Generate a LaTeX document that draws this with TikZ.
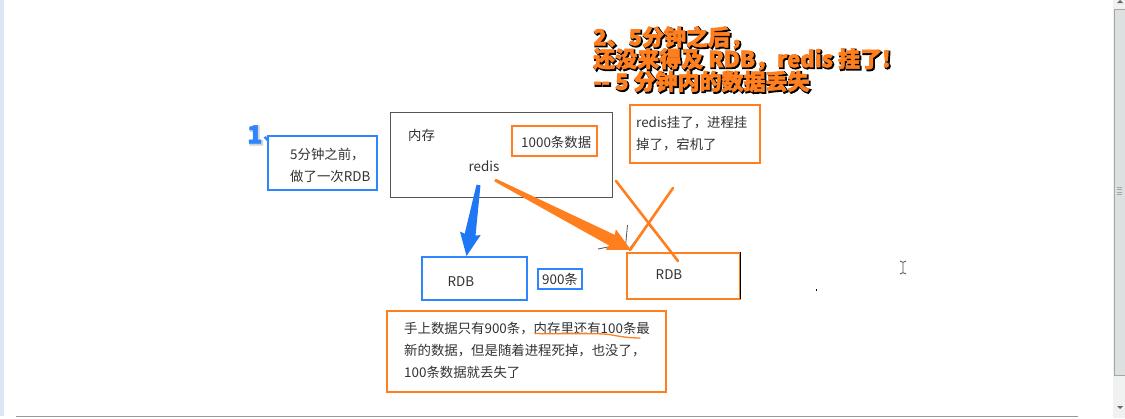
\documentclass[tikz,border=0pt]{standalone}
\usepackage{fontspec}
\setmainfont{Noto Sans CJK SC}
\usetikzlibrary{calc}
\definecolor{ob}{HTML}{FF7F1E}
\definecolor{bb}{HTML}{2E86FF}
\definecolor{barrow}{HTML}{1E78F5}
\definecolor{ink}{HTML}{333333}
\definecolor{frame}{HTML}{555555}
\definecolor{stripc}{HTML}{DCE6F4}
\definecolor{trackc}{HTML}{F0F1F1}
\definecolor{thumbc}{HTML}{DDE0E0}
\newcommand{\sha}[3]{\leavevmode\rlap{\special{pdf:code 2 Tr #3 w}\raisebox{-1.2pt}{\hspace*{1.2pt}\color{#1}#2}\special{pdf:code 0 Tr 1 w}}\special{pdf:code 2 Tr 0.5 w}#2\special{pdf:code 0 Tr 1 w}}
\tikzset{
  obox/.style={draw=ob,line width=2pt,fill=white,inner sep=0pt,rectangle},
  bbox/.style={draw=bb,line width=2pt,fill=white,inner sep=0pt,rectangle},
  txt/.style={font=\fontsize{13.4}{22}\selectfont,text=ink,inner sep=0pt,anchor=west,align=left},
  ctxt/.style={font=\fontsize{13.4}{22}\selectfont,text=ink,inner sep=0pt,anchor=center},
  title/.style={font=\bfseries\fontsize{22}{22}\selectfont,text=ob,inner sep=0pt,anchor=west},
  stroke/.style={draw=ob,line width=2.6pt,line cap=round},
  thinmark/.style={draw=frame,line width=0.8pt},
}
\begin{document}
\begin{tikzpicture}[x=1pt,y=-1pt]
\useasboundingbox (0,0) rectangle (1125,418);
\fill[white] (0,0) rectangle (1125,418);
% window chrome
\fill[stripc] (0,0) rectangle (4,416);
\fill[trackc] (1113,0) rectangle (1125,418);
\fill[thumbc,draw=gray!70,line width=0.5pt] (1114,9) rectangle (1125,375);
\draw[gray!70,line width=0.6pt] (1117,187)--(1122,187) (1117,189.5)--(1122,189.5) (1117,192)--(1122,192) (1117,194)--(1122,194);
\fill[gray!80!black] (1117,3)--(1120,0)--(1123,3)--cycle (1117,406)--(1123,406)--(1120,409)--cycle;
\draw[gray!80,line width=1pt] (16,416.5)--(1078,416.5);
% memory box
\node[draw=frame,line width=1pt,fill=white,minimum width=222pt,minimum height=85pt,inner sep=0pt] (mem) at (501,154.5) {};
\node[obox,minimum width=85pt,minimum height=30pt] (k1000) at (554,141) {};
\node[bbox,minimum width=109pt,minimum height=54pt] (before) at (322,162.5) {};
\node[obox,minimum width=130pt,minimum height=58pt] (crash) at (694.5,133.5) {};
\node[bbox,minimum width=105pt,minimum height=43pt] (rdba) at (474,278) {};
\node[bbox,minimum width=44pt,minimum height=20pt] (n900) at (559.5,278.5) {};
\node[obox,minimum width=113pt,minimum height=46pt] (rdbb) at (683.5,275.5) {};
\node[obox,minimum width=279pt,minimum height=81pt] (note) at (526,351) {};
\draw[black,line width=1pt] (740.5,252)--(740.5,299);
% texts
\node[txt] (tmem) at (408,135) {内存};
\node[txt] (t1000) at (521,142) {1000条数据};
\node[ctxt] (redis) at (484,166) {redis};
\node[txt] (tbefore) at (290,165.5) {5分钟之前，\\做了一次RDB};
\node[txt] (tcrash) at (636,134) {redis挂了，进程挂\\掉了，宕机了};
\node[ctxt] (trdba) at (461,282) {RDB};
\node[ctxt] (t900) at (560,279) {900条};
\node[ctxt] (trdbb) at (669,275) {RDB};
\node[txt] (tnote) at (404,350) {手上数据只有900条，内存里还有100条最\\新的数据，但是随着进程死掉，也没了，\\100条数据就丢失了};
% title
\node[title] (l1) at (593,38) {\sha{black}{2、5分钟之后，}{1.8}};
\node[title] (l2) at (593,60) {\sha{black}{还没来得及 RDB，redis 挂了!}{1.8}};
\node[title] (l3) at (593,82) {\sha{black}{-{}- 5 分钟内的数据丢失}{1.8}};
\node[font=\bfseries\fontsize{25}{25}\selectfont,text=bb,inner sep=0pt,anchor=west] (one) at (247,135) {\sha{black!18}{1}{1.8}};
\node[font=\bfseries\fontsize{16}{16}\selectfont,text=bb,inner sep=0pt,anchor=west] (dun) at (263,139) {、};
% thin marks beneath the cross
\draw[thinmark] (627.5,225)--(625.5,246);
\draw[thinmark] (598,249)--(613,246);
\draw[thinmark] (630,248)--(648,224)--(659,237);
% arrows
\coordinate (bs) at (478.5,185);
\coordinate (be) at (466.5,256);
\coordinate (os) at (495,180);
\coordinate (oe) at (631,250);
\fill[barrow] ($(bs)!2pt!90:(be)$) -- ($(bs)!0.70!(be)!5.5pt!90:(be)$) -- ($(bs)!0.68!(be)!10.5pt!90:(be)$) -- (be) -- ($(bs)!0.68!(be)!10.5pt!-90:(be)$) -- ($(bs)!0.70!(be)!5.5pt!-90:(be)$) -- ($(bs)!2pt!-90:(be)$) -- cycle;
\fill[ob] ($(os)!1.5pt!90:(oe)$) -- ($(os)!0.86!(oe)!6pt!90:(oe)$) -- ($(os)!0.85!(oe)!11.5pt!90:(oe)$) -- (oe) -- ($(os)!0.85!(oe)!11.5pt!-90:(oe)$) -- ($(os)!0.86!(oe)!6pt!-90:(oe)$) -- ($(os)!1.5pt!-90:(oe)$) -- cycle;
% cross
\coordinate (xa) at (616,181);
\coordinate (xb) at (678,261);
\coordinate (xc) at (673,188);
\coordinate (xd) at (630,250);
\draw[stroke] (xa)--(xb);
\draw[stroke] (xc)--(xd);
% underline
\draw[draw=ob,line width=1.3pt,line cap=round] (535,333.5) .. controls (570,334.5) and (600,332.5) .. (612,335) .. controls (622,337) and (632,338) .. (640,338);
% cursor and speck
\draw[black!70,line width=0.8pt] (900,261)--(902,262)--(904,262)--(906,261) (903,262)--(903,273) (900,274)--(902,273)--(904,273)--(906,274);
\fill[black] (815.5,289) rectangle (817,290.5);
\end{tikzpicture}
\end{document}
